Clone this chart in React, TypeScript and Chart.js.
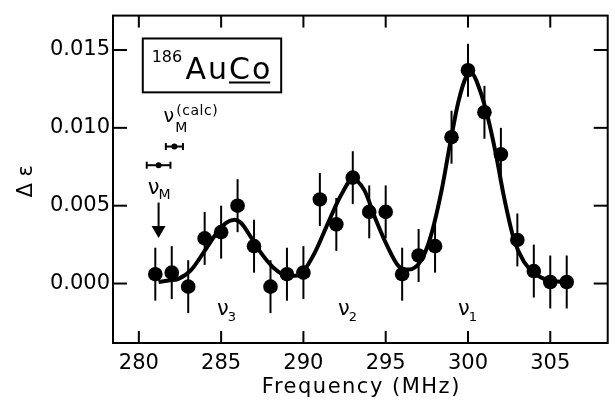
import React, { useEffect, useRef } from 'react';
import { Chart, registerables } from 'chart.js';

Chart.register(...registerables);

// measured data points
const frequencies = [281, 282, 283, 284, 285, 286, 287, 288, 289, 290, 291, 292, 293, 294, 295, 296, 297, 298, 299, 300, 301, 302, 303, 304, 305, 306];
const deltaEps = [0.0006, 0.0007, -0.0002, 0.0029, 0.0033, 0.0050, 0.0024, -0.0002, 0.0006, 0.0007, 0.0054, 0.0038, 0.0068, 0.0046, 0.0046, 0.0006, 0.0018, 0.0024, 0.0094, 0.0137, 0.0110, 0.0083, 0.0028, 0.0008, 0.0001, 0.0001];
const deltaErr = [0.0017, 0.0017, 0.0017, 0.0017, 0.0017, 0.0017, 0.0017, 0.0017, 0.0017, 0.0017, 0.0017, 0.0017, 0.0017, 0.0017, 0.0017, 0.0017, 0.0017, 0.0017, 0.0017, 0.0017, 0.0017, 0.0017, 0.0017, 0.0017, 0.0017, 0.0017];

// fitted curve
const fitFreq = [281.2, 281.8, 282.4, 283.2, 284.0, 284.7, 285.3, 285.8, 286.2, 286.8, 287.4, 288.2, 289.0, 289.5, 290.0, 290.7, 291.5, 292.3, 293.0, 293.7, 294.4, 295.1, 295.8, 296.4, 297.1, 297.7, 298.4, 298.9, 299.4, 299.9, 300.2, 300.7, 301.2, 301.7, 302.2, 302.8, 303.4, 304.0, 304.9, 306.0];
const fitVals = [0.0001, 0.0002, 0.0003, 0.0009, 0.0021, 0.0032, 0.0039, 0.0041, 0.0039, 0.0030, 0.0020, 0.0010, 0.0005, 0.0005, 0.0008, 0.0020, 0.0039, 0.0057, 0.0067, 0.0060, 0.0041, 0.0024, 0.0011, 0.0009, 0.0014, 0.0029, 0.0060, 0.0089, 0.0116, 0.0133, 0.0135, 0.0125, 0.0107, 0.0083, 0.0055, 0.0028, 0.0014, 0.0007, 0.0002, 0.0001];

// nu_M markers (measured and calculated) with horizontal error bars
const markerFreq = [281.2, 282.16];
const markerVals = [0.0076, 0.0088];
const markerErr = [0.72, 0.52];

const xTicks = [280, 285, 290, 295, 300, 305];
const yTicks = [0, 0.005, 0.01, 0.015];

const peakSubs = ['3', '2', '1'];
const peakLabelFreq = [284.75, 292.1, 299.4];

const X_MIN = 278.43;
const X_MAX = 308.49;
const Y_MIN = -0.00382;
const Y_MAX = 0.01721;

const FONT = '"DejaVu Sans", sans-serif';

function setFont(ctx: CanvasRenderingContext2D, size: number, ls = 0) {
  ctx.font = `${size}px ${FONT}`;
  (ctx as any).letterSpacing = `${ls}px`;
}

const overlay = {
  id: 'overlay',
  beforeDatasetsDraw(chart: any) {
    const { ctx, chartArea: a, scales } = chart;
    const x = scales.x;
    const y = scales.y;
    ctx.save();
    ctx.strokeStyle = '#000';
    ctx.fillStyle = '#000';
    ctx.lineWidth = 2;
    const line = (x1: number, y1: number, x2: number, y2: number) => {
      ctx.beginPath();
      ctx.moveTo(x1, y1);
      ctx.lineTo(x2, y2);
      ctx.stroke();
    };
    // frame
    ctx.strokeRect(a.left, a.top, a.right - a.left, a.bottom - a.top);
    // inward ticks on all sides
    xTicks.forEach((v) => {
      const px = x.getPixelForValue(v);
      line(px, a.bottom, px, a.bottom - 12);
      line(px, a.top, px, a.top + 12);
    });
    yTicks.forEach((v) => {
      const py = y.getPixelForValue(v);
      line(a.left, py, a.left + 14, py);
      line(a.right, py, a.right - 14, py);
    });
    // vertical error bars
    frequencies.forEach((f, i) => {
      const px = x.getPixelForValue(f);
      line(px, y.getPixelForValue(deltaEps[i] - deltaErr[i]), px, y.getPixelForValue(deltaEps[i] + deltaErr[i]));
    });
    // horizontal error bars of the nu_M markers
    markerFreq.forEach((f, i) => {
      const py = y.getPixelForValue(markerVals[i]);
      const l = x.getPixelForValue(f - markerErr[i]);
      const r = x.getPixelForValue(f + markerErr[i]);
      line(l, py, r, py);
      line(l, py - 3.5, l, py + 3.5);
      line(r, py - 3.5, r, py + 3.5);
    });
    // arrow pointing at nu_M
    const ax = x.getPixelForValue(markerFreq[0]);
    const aTop = y.getPixelForValue(0.0052);
    const aTip = y.getPixelForValue(0.00292);
    line(ax, aTop, ax, aTip - 10);
    ctx.beginPath();
    ctx.moveTo(ax - 7, aTip - 12);
    ctx.lineTo(ax + 7, aTip - 12);
    ctx.lineTo(ax, aTip);
    ctx.closePath();
    ctx.fill();
    ctx.restore();
  },
  afterDraw(chart: any) {
    const { ctx, chartArea: a, scales } = chart;
    const x = scales.x;
    const y = scales.y;
    ctx.save();
    ctx.fillStyle = '#000';
    ctx.strokeStyle = '#000';
    ctx.textBaseline = 'alphabetic';
    ctx.textAlign = 'left';
    const X = (v: number) => x.getPixelForValue(v);
    const Y = (v: number) => y.getPixelForValue(v);

    // x axis title
    setFont(ctx, 21, 1.5);
    ctx.textAlign = 'center';
    ctx.fillText('Frequency (MHz)', (a.left + a.right) / 2 + 1, 393);

    // y axis title
    ctx.save();
    ctx.translate(32, (a.top + a.bottom) / 2 + 2);
    ctx.rotate(-Math.PI / 2);
    setFont(ctx, 21, 0);
    ctx.textAlign = 'center';
    ctx.fillText('Δ ε', 0, 0);
    ctx.restore();

    ctx.textAlign = 'left';

    // peak labels
    peakSubs.forEach((s, i) => {
      const px = X(peakLabelFreq[i]);
      setFont(ctx, 21);
      ctx.fillText('ν', px, Y(-0.00204));
      const w = ctx.measureText('ν').width;
      setFont(ctx, 13);
      ctx.fillText(s, px + w - 1, Y(-0.00242));
    });

    // isotope box
    ctx.lineWidth = 2;
    const bl = X(280.24);
    const bt = Y(0.01574);
    const br = X(288.65);
    const bb = Y(0.01228);
    ctx.strokeRect(bl, bt, br - bl, bb - bt);
    setFont(ctx, 16);
    ctx.fillText('186', X(280.78), Y(0.01424));
    setFont(ctx, 30, 2);
    const auX = X(282.83);
    const auY = Y(0.01311);
    ctx.fillText('AuCo', auX, auY);
    const wAu = ctx.measureText('Au').width;
    const wAll = ctx.measureText('AuCo').width;
    ctx.beginPath();
    ctx.moveTo(auX + wAu, auY + 3);
    ctx.lineTo(auX + wAll - 2, auY + 3);
    ctx.stroke();

    // nu_M^(calc) label
    setFont(ctx, 19);
    ctx.fillText('ν', X(281.5), Y(0.01039));
    setFont(ctx, 14);
    ctx.fillText('M', X(282.22), Y(0.00976));
    setFont(ctx, 14, 0.5);
    ctx.fillText('(calc)', X(282.28), Y(0.01083));

    // nu_M label
    setFont(ctx, 21);
    const nuX = X(280.54);
    ctx.fillText('ν', nuX, Y(0.00572));
    const wNu = ctx.measureText('ν').width;
    setFont(ctx, 14);
    ctx.fillText('M', nuX + wNu - 1, Y(0.0054));

    ctx.restore();
  },
};

export default function App() {
  const canvasRef = useRef<HTMLCanvasElement | null>(null);

  useEffect(() => {
    if (!canvasRef.current) return;
    Chart.defaults.font.family = FONT;
    Chart.defaults.color = '#000';
    const chart = new Chart(canvasRef.current, {
      type: 'scatter',
      data: {
        datasets: [
          {
            label: 'fit',
            data: fitFreq.map((f, i) => ({ x: f, y: fitVals[i] })),
            showLine: true,
            borderColor: '#000',
            borderWidth: 4,
            pointRadius: 0,
            cubicInterpolationMode: 'monotone',
            order: 2,
          } as any,
          {
            label: 'data',
            data: frequencies.map((f, i) => ({ x: f, y: deltaEps[i] })),
            backgroundColor: '#000',
            borderColor: '#000',
            borderWidth: 0,
            pointRadius: 7.3,
            order: 1,
          },
          {
            label: 'nuM',
            data: markerFreq.map((f, i) => ({ x: f, y: markerVals[i] })),
            backgroundColor: '#000',
            borderColor: '#000',
            borderWidth: 0,
            pointRadius: 3,
            order: 0,
          },
        ],
      },
      options: {
        animation: false,
        responsive: false,
        devicePixelRatio: 1,
        layout: { padding: { top: 10, right: 3, left: 0, bottom: 0 } },
        plugins: {
          legend: { display: false },
          tooltip: { enabled: false },
        },
        scales: {
          x: {
            type: 'linear',
            min: X_MIN,
            max: X_MAX,
            grid: { display: false, drawTicks: false },
            border: { display: false },
            afterBuildTicks: (s: any) => {
              s.ticks = xTicks.map((v) => ({ value: v }));
            },
            afterFit: (s: any) => {
              s.height = 57;
            },
            ticks: {
              font: { size: 21, family: FONT },
              color: '#000',
              padding: 8,
              maxRotation: 0,
              autoSkip: false,
              callback: (v: any) => String(v),
            },
          },
          y: {
            type: 'linear',
            min: Y_MIN,
            max: Y_MAX,
            grid: { display: false, drawTicks: false },
            border: { display: false },
            afterBuildTicks: (s: any) => {
              s.ticks = yTicks.map((v) => ({ value: v }));
            },
            afterFit: (s: any) => {
              s.width = 113;
            },
            ticks: {
              font: { size: 21, family: FONT },
              color: '#000',
              padding: 3,
              autoSkip: false,
              callback: (v: any) => Number(v).toFixed(3),
            },
          },
        },
      },
      plugins: [overlay],
    });
    return () => chart.destroy();
  }, []);

  return (
    <div style={{ position: 'fixed', left: 0, top: 0, width: 615, height: 400, background: '#fff' }}>
      <canvas ref={canvasRef} width={615} height={400} />
    </div>
  );
}
